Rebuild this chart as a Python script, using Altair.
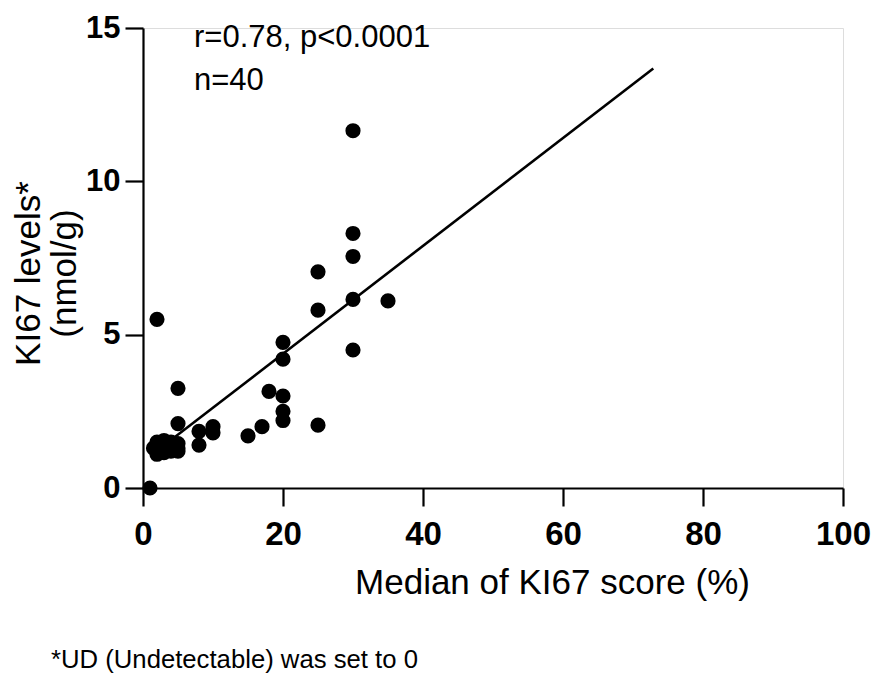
import altair as alt
import pandas as pd

# ---- data ----
ki67_score = [1, 2, 5, 5, 8, 8, 10, 10, 15, 17, 18, 20, 20, 20, 20, 20,
              25, 25, 25, 30, 30, 30, 30, 30, 35,
              2, 2, 2, 2, 3, 3, 3, 4, 4, 4, 5, 5, 5, 1.5, 3]
ki67_level = [0, 5.5, 3.25, 2.1, 1.85, 1.4, 2.0, 1.8, 1.7, 2.0, 3.15, 4.75, 4.2, 3.0, 2.5, 2.2,
              7.05, 5.8, 2.05, 11.65, 8.3, 7.55, 6.15, 4.5, 6.1,
              1.1, 1.25, 1.4, 1.5, 1.3, 1.45, 1.55, 1.2, 1.35, 1.5, 1.2, 1.3, 1.45, 1.3, 1.15]

fit_x = [4.6, 72.9]
fit_y = [1.67, 13.68]

x_ticks = [0, 20, 40, 60, 80, 100]
y_ticks = [0, 5, 10, 15]

annotation = "r=0.78, p<0.0001\nn=40"
footnote = "*UD (Undetectable) was set to 0"
x_title = "Median of KI67 score (%)"
y_title = ["KI67 levels*", "(nmol/g)"]

FONT = "Liberation Sans"

pts = pd.DataFrame({"score": ki67_score, "level": ki67_level})
fit = pd.DataFrame({"score": fit_x, "level": fit_y})

xscale = alt.Scale(domain=[0, 100], nice=False, zero=False)
yscale = alt.Scale(domain=[0, 15], nice=False, zero=False)

xaxis = alt.Axis(values=x_ticks, title=x_title, grid=False,
                 domainColor="black", domainWidth=2.2, tickColor="black", tickWidth=2.2, tickSize=18,
                 labelFont=FONT, labelFontSize=33, labelFontWeight="bold", labelColor="black",
                 labelPadding=12, labelFlush=False,
                 titleFont=FONT, titleFontSize=35, titleFontWeight="normal", titleColor="black",
                 titleX=409, titleY=105, titleBaseline="alphabetic", titleAlign="center")
yaxis = alt.Axis(values=y_ticks, title=y_title, grid=False,
                 domainColor="black", domainWidth=2.2, tickColor="black", tickWidth=2.2, tickSize=18,
                 labelFont=FONT, labelFontSize=31, labelFontWeight="bold", labelColor="black",
                 labelPadding=5, labelFlush=False,
                 titleFont=FONT, titleFontSize=35, titleFontWeight="normal", titleColor="black",
                 titleX=-97, titleY=245, titleLineHeight=36, titleAlign="center")

points = alt.Chart(pts).mark_circle(size=230, color="black", opacity=1).encode(
    x=alt.X("score:Q", scale=xscale, axis=xaxis),
    y=alt.Y("level:Q", scale=yscale, axis=yaxis),
)

line = alt.Chart(fit).mark_line(color="black", strokeWidth=2.6).encode(
    x=alt.X("score:Q", scale=xscale),
    y=alt.Y("level:Q", scale=yscale),
)

ann = alt.Chart(pd.DataFrame({"t": [annotation]})).mark_text(
    align="left", baseline="alphabetic", font=FONT, fontSize=31, color="black",
    lineBreak="\n", lineHeight=43
).encode(x=alt.value(51), y=alt.value(19), text="t:N")

foot = alt.Chart(pd.DataFrame({"t": [footnote]})).mark_text(
    align="left", baseline="alphabetic", font=FONT, fontSize=25.7, color="black"
).encode(x=alt.value(-92), y=alt.value(640), text="t:N")

chart = alt.layer(line, points, ann, foot).properties(
    width=700, height=460,
    autosize=alt.AutoSizeParams(type="none"),
    padding={"left": 135, "top": 20, "right": 35, "bottom": 200},
).configure_view(stroke=None).configure(background="white")

chart.save("out.html", embed_options={"renderer": "svg", "actions": False})
